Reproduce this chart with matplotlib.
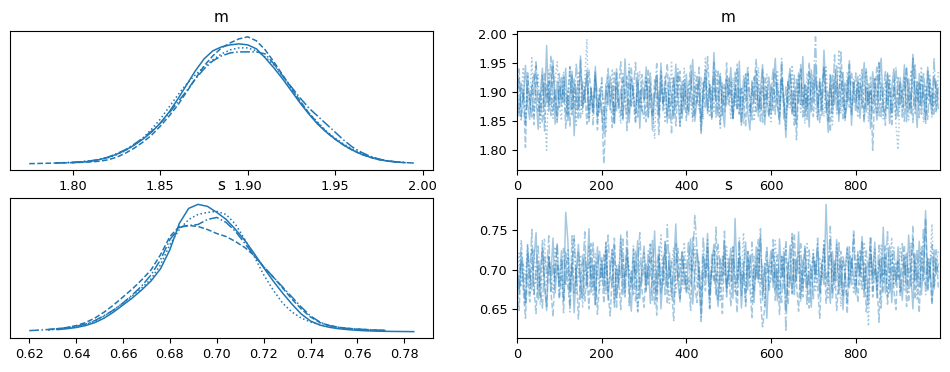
import numpy as np
import matplotlib
matplotlib.use("Agg")
import matplotlib.pyplot as plt

nan = float("nan")

# ---------------- KDE curves (density, arbitrary units) ----------------
m_grid = [1.775, 1.780, 1.785, 1.790, 1.795, 1.800, 1.805, 1.810, 1.815, 1.820,
          1.825, 1.830, 1.835, 1.840, 1.845, 1.850, 1.855, 1.860, 1.865, 1.870,
          1.875, 1.880, 1.885, 1.890, 1.895, 1.900, 1.905, 1.910, 1.915, 1.920,
          1.925, 1.930, 1.935, 1.940, 1.945, 1.950, 1.955, 1.960, 1.965, 1.970,
          1.975, 1.980, 1.985, 1.990, 1.995]
m_kde_chain0 = [nan, nan, nan, nan, nan, 1.6, 2.2, 3.0, 4.6, 6.8,
                10, 14, 19, 25, 32, 41, 52, 65, 79, 93,
                105, 113, 117, 119, 120, 119, 115, 106, 96, 85,
                73, 61, 50, 40, 32, 25, 19, 14, 10, 7,
                4.6, 3.2, 2.2, 1.6, nan]
m_kde_chain1 = [0.6, 0.8, 1.0, 1.2, 1.4, 1.6, 1.9, 2.3, 3.0, 4.4,
                7, 11, 16, 22, 29, 38, 48, 59, 72, 85,
                98, 108, 116, 121, 125, 127, 123, 114, 102, 89,
                76, 63, 51, 41, 32, 25, 19, 14, 10, 7,
                4.8, 3.2, 2.2, nan, nan]
m_kde_chain2 = [nan, nan, nan, 1.0, 1.4, 1.9, 2.5, 3.3, 4.6, 6.5,
                9.5, 13.5, 19, 26, 35, 45, 57, 69, 80, 89,
                97, 104, 110, 114, 116, 116, 113, 107, 99, 88,
                75, 62, 51, 42, 33, 26, 20, 15, 11, 7.5,
                5, 3.4, 2.4, 1.7, nan]
m_kde_chain3 = [nan, nan, nan, 1.2, 1.6, 2.0, 2.6, 3.4, 4.8, 7.0,
                10.5, 14.5, 20, 26, 33, 41, 51, 62, 73, 85,
                95, 103, 108, 111, 112, 112, 112, 110, 100, 88,
                77, 66, 56, 48, 40, 32, 24, 17, 12, 8,
                5.2, 3.5, 2.4, 1.7, 1.2]

s_grid = [0.620, 0.624, 0.628, 0.632, 0.636, 0.640, 0.644, 0.648, 0.652, 0.656,
          0.660, 0.664, 0.668, 0.672, 0.676, 0.680, 0.684, 0.688, 0.692, 0.696,
          0.700, 0.704, 0.708, 0.712, 0.716, 0.720, 0.724, 0.728, 0.732, 0.736,
          0.740, 0.744, 0.748, 0.752, 0.756, 0.760, 0.764, 0.768, 0.772, 0.776,
          0.780, 0.784]
s_kde_chain0 = [nan, nan, nan, 2.5, 3.4, 4.6, 6.5, 9.5, 14, 20,
                27, 34, 42, 51, 63, 82, 108, 123, 127, 125,
                119, 112, 102, 91, 78, 64, 51, 39, 28, 18,
                11, 7, 4.8, 3.4, 2.5, 1.8, 1.3, 1.0, 0.8, 0.7,
                0.6, 0.5]
s_kde_chain1 = [nan, nan, 2.5, 3.4, 4.6, 6.5, 9.5, 14, 20, 27,
                35, 43, 52, 62, 77, 95, 105, 106, 105, 102,
                98, 95, 90, 84, 76, 65, 55, 44, 33, 23,
                15, 9.5, 6.5, 4.8, 3.8, 3.0, 2.5, 2.0, 1.7, nan,
                nan, nan]
s_kde_chain2 = [nan, nan, 2.0, 3.0, 4.0, 5.3, 7.5, 11, 16, 22,
                29, 36, 44, 53, 67, 87, 102, 112, 117, 119,
                120, 117, 107, 92, 75, 57, 42, 29, 20, 14,
                10, 7.5, 5.5, 4.2, 3.3, 2.7, 2.2, 1.8, 1.5, nan,
                nan, nan]
s_kde_chain3 = [1.5, 2.0, 2.6, 3.4, 4.4, 5.8, 8.0, 11.5, 16.5, 22,
                29, 37, 46, 57, 72, 92, 104, 106, 107, 112,
                114, 109, 100, 88, 76, 65, 55, 45, 35, 25,
                16, 10, 6.5, 4.8, 3.6, 3.0, 2.5, 2.0, 1.7, nan,
                nan, nan]

# ---------------- Trace samples (every 5th draw) ----------------
draws = np.arange(0, 1000, 5)

m_trace_chain0 = [
    1.902, 1.859, 1.915, 1.888, 1.946, 1.879, 1.853, 1.907, 1.931, 1.892, 1.836, 1.898, 1.941, 1.875, 1.980, 1.867, 1.911, 1.955, 1.845, 1.919,
    1.874, 1.925, 1.882, 1.941, 1.851, 1.897, 1.936, 1.825, 1.908, 1.870, 1.962, 1.876, 1.899, 1.931, 1.849, 1.903, 1.868, 1.944, 1.858, 1.894,
    1.866, 1.829, 1.914, 1.878, 1.927, 1.890, 1.846, 1.940, 1.873, 1.905, 1.852, 1.957, 1.887, 1.848, 1.922, 1.896, 1.864, 1.933, 1.838, 1.910,
    1.885, 1.943, 1.856, 1.915, 1.834, 1.891, 1.929, 1.862, 1.950, 1.879, 1.908, 1.847, 1.925, 1.888, 1.855, 1.948, 1.893, 1.841, 1.918, 1.870,
    1.931, 1.861, 1.899, 1.956, 1.850, 1.887, 1.924, 1.833, 1.905, 1.939, 1.868, 1.913, 1.853, 1.968, 1.890, 1.859, 1.927, 1.876, 1.840, 1.921,
    1.895, 1.942, 1.856, 1.910, 1.872, 1.953, 1.846, 1.893, 1.930, 1.864, 1.835, 1.917, 1.881, 1.937, 1.858, 1.904, 1.947, 1.844, 1.889, 1.926,
    1.862, 1.912, 1.958, 1.876, 1.851, 1.924, 1.890, 1.822, 1.915, 1.941, 1.866, 1.901, 1.845, 1.933, 1.879, 1.961, 1.859, 1.908, 1.840, 1.938,
    1.883, 1.949, 1.854, 1.918, 1.870, 1.972, 1.893, 1.831, 1.928, 1.862, 1.909, 1.945, 1.850, 1.899, 1.934, 1.857, 1.881, 1.954, 1.843, 1.917,
    1.878, 1.927, 1.855, 1.903, 1.951, 1.866, 1.914, 1.837, 1.935, 1.890, 1.852, 1.920, 1.958, 1.873, 1.860, 1.931, 1.846, 1.907, 1.940, 1.882,
    1.858, 1.916, 1.892, 1.947, 1.849, 1.923, 1.869, 1.965, 1.900, 1.839, 1.932, 1.877, 1.912, 1.853, 1.943, 1.891, 1.862, 1.928, 1.906, 1.872]
m_trace_chain1 = [
    1.889, 1.927, 1.852, 1.900, 1.805, 1.936, 1.871, 1.912, 1.844, 1.948, 1.892, 1.860, 1.929, 1.833, 1.915, 1.878, 1.963, 1.866, 1.904, 1.848,
    1.932, 1.876, 1.913, 1.838, 1.894, 1.944, 1.861, 1.923, 1.887, 1.853, 1.955, 1.872, 1.909, 1.845, 1.938, 1.898, 1.864, 1.926, 1.835, 1.906,
    1.874, 1.777, 1.856, 1.917, 1.895, 1.839, 1.934, 1.868, 1.908, 1.952, 1.855, 1.899, 1.927, 1.862, 1.943, 1.881, 1.846, 1.919, 1.873, 1.930,
    1.899, 1.849, 1.940, 1.877, 1.858, 1.921, 1.891, 1.827, 1.928, 1.866, 1.910, 1.949, 1.855, 1.886, 1.925, 1.842, 1.903, 1.936, 1.864, 1.914,
    1.851, 1.905, 1.946, 1.880, 1.859, 1.930, 1.890, 1.829, 1.917, 1.872, 1.961, 1.896, 1.854, 1.924, 1.883, 1.938, 1.845, 1.911, 1.866, 1.950,
    1.877, 1.920, 1.855, 1.898, 1.941, 1.862, 1.909, 1.885, 1.840, 1.932, 1.893, 1.852, 1.915, 1.956, 1.868, 1.901, 1.848, 1.927, 1.884, 1.859,
    1.913, 1.867, 1.934, 1.891, 1.845, 1.947, 1.880, 1.856, 1.918, 1.897, 1.861, 1.929, 1.818, 1.903, 1.939, 1.875, 1.911, 1.853, 1.951, 1.886,
    1.858, 1.924, 1.895, 1.848, 1.912, 1.943, 1.865, 1.902, 1.832, 1.931, 1.879, 1.919, 1.861, 1.969, 1.892, 1.851, 1.921, 1.874, 1.935, 1.899,
    1.866, 1.917, 1.886, 1.939, 1.853, 1.908, 1.877, 1.926, 1.800, 1.895, 1.945, 1.859, 1.914, 1.883, 1.843, 1.933, 1.896, 1.867, 1.921, 1.855,
    1.925, 1.878, 1.903, 1.850, 1.941, 1.889, 1.863, 1.958, 1.874, 1.916, 1.856, 1.930, 1.894, 1.845, 1.936, 1.881, 1.907, 1.860, 1.919, 1.887]
m_trace_chain2 = [
    1.923, 1.865, 1.894, 1.943, 1.849, 1.910, 1.881, 1.959, 1.858, 1.901, 1.930, 1.840, 1.914, 1.872, 1.800, 1.938, 1.889, 1.855, 1.921, 1.952,
    1.878, 1.851, 1.928, 1.897, 1.860, 1.942, 1.869, 1.913, 1.843, 1.933, 1.890, 1.862, 1.918, 1.991, 1.854, 1.906, 1.875, 1.937, 1.848, 1.900,
    1.916, 1.867, 1.830, 1.927, 1.884, 1.940, 1.855, 1.909, 1.876, 1.846, 1.932, 1.893, 1.861, 1.948, 1.873, 1.914, 1.850, 1.902, 1.936, 1.865,
    1.893, 1.928, 1.857, 1.908, 1.880, 1.820, 1.922, 1.868, 1.938, 1.896, 1.847, 1.912, 1.875, 1.951, 1.859, 1.903, 1.929, 1.842, 1.888, 1.941,
    1.864, 1.915, 1.884, 1.848, 1.935, 1.897, 1.870, 1.926, 1.853, 1.958, 1.891, 1.857, 1.909, 1.867, 1.939, 1.894, 1.838, 1.918, 1.879, 1.930,
    1.902, 1.855, 1.925, 1.877, 1.950, 1.863, 1.908, 1.845, 1.934, 1.887, 1.866, 1.921, 1.850, 1.897, 1.942, 1.872, 1.911, 1.856, 1.931, 1.880,
    1.849, 1.908, 1.885, 1.938, 1.861, 1.920, 1.891, 1.836, 1.916, 1.873, 1.947, 1.856, 1.899, 1.928, 1.865, 1.910, 1.846, 1.933, 1.877, 1.903,
    1.932, 1.876, 1.852, 1.917, 1.893, 1.858, 1.943, 1.872, 1.906, 1.844, 1.925, 1.884, 1.973, 1.863, 1.911, 1.853, 1.935, 1.894, 1.867, 1.922,
    1.895, 1.856, 1.929, 1.872, 1.912, 1.940, 1.849, 1.900, 1.878, 1.925, 1.862, 1.953, 1.893, 1.854, 1.916, 1.873, 1.931, 1.858, 1.908, 1.843,
    1.801, 1.903, 1.866, 1.927, 1.882, 1.852, 1.938, 1.899, 1.861, 1.918, 1.877, 1.944, 1.848, 1.910, 1.886, 1.929, 1.857, 1.897, 1.870, 1.935]
m_trace_chain3 = [
    1.878, 1.940, 1.858, 1.903, 1.842, 1.927, 1.890, 1.855, 1.913, 1.952, 1.867, 1.899, 1.849, 1.932, 1.881, 1.919, 1.860, 1.944, 1.893, 1.853,
    1.912, 1.884, 1.935, 1.862, 1.901, 1.840, 1.928, 1.873, 1.950, 1.895, 1.856, 1.918, 1.879, 1.938, 1.866, 1.907, 1.844, 1.931, 1.891, 1.863,
    1.925, 1.853, 1.899, 1.942, 1.870, 1.911, 1.847, 1.933, 1.883, 1.860, 1.923, 1.894, 1.834, 1.937, 1.877, 1.908, 1.951, 1.857, 1.902, 1.871,
    1.855, 1.918, 1.890, 1.935, 1.864, 1.899, 1.949, 1.851, 1.912, 1.880, 1.929, 1.859, 1.896, 1.830, 1.925, 1.874, 1.940, 1.904, 1.853, 1.921,
    1.891, 1.867, 1.930, 1.857, 1.910, 1.881, 1.943, 1.848, 1.901, 1.927, 1.863, 1.915, 1.884, 1.951, 1.855, 1.896, 1.934, 1.860, 1.913, 1.876,
    1.924, 1.893, 1.852, 1.936, 1.871, 1.905, 1.843, 1.929, 1.884, 1.945, 1.859, 1.899, 1.926, 1.866, 1.914, 1.850, 1.939, 1.879, 1.908, 1.856,
    1.898, 1.941, 1.862, 1.917, 1.878, 1.958, 1.854, 1.909, 1.873, 1.932, 1.893, 1.843, 1.922, 1.882, 1.949, 1.857, 1.913, 1.870, 1.935, 1.865,
    1.911, 1.995, 1.872, 1.923, 1.858, 1.942, 1.890, 1.850, 1.930, 1.877, 1.964, 1.863, 1.903, 1.936, 1.854, 1.917, 1.881, 1.948, 1.861, 1.906,
    1.933, 1.869, 1.915, 1.891, 1.849, 1.939, 1.880, 1.909, 1.864, 1.926, 1.888, 1.950, 1.855, 1.901, 1.935, 1.872, 1.920, 1.844, 1.897, 1.943,
    1.879, 1.927, 1.857, 1.908, 1.941, 1.868, 1.899, 1.848, 1.949, 1.884, 1.916, 1.862, 1.934, 1.893, 1.853, 1.921, 1.875, 1.959, 1.866, 1.910]

s_trace_chain0 = [
    0.708, 0.669, 0.722, 0.686, 0.655, 0.731, 0.694, 0.674, 0.713, 0.747, 0.662, 0.699, 0.727, 0.679, 0.648, 0.716, 0.690, 0.740, 0.670, 0.705,
    0.683, 0.724, 0.660, 0.773, 0.738, 0.673, 0.711, 0.645, 0.701, 0.732, 0.684, 0.664, 0.719, 0.691, 0.752, 0.671, 0.706, 0.656, 0.729, 0.688,
    0.715, 0.676, 0.735, 0.661, 0.697, 0.726, 0.652, 0.703, 0.682, 0.744, 0.668, 0.695, 0.728, 0.675, 0.647, 0.712, 0.689, 0.737, 0.663, 0.700,
    0.730, 0.679, 0.707, 0.657, 0.693, 0.749, 0.670, 0.717, 0.650, 0.698, 0.734, 0.677, 0.721, 0.666, 0.702, 0.758, 0.685, 0.659, 0.723, 0.694,
    0.673, 0.710, 0.739, 0.656, 0.696, 0.725, 0.681, 0.640, 0.716, 0.690, 0.746, 0.667, 0.704, 0.732, 0.678, 0.653, 0.714, 0.692, 0.737, 0.671,
    0.699, 0.727, 0.663, 0.765, 0.684, 0.712, 0.651, 0.700, 0.735, 0.674, 0.718, 0.693, 0.658, 0.729, 0.687, 0.743, 0.668, 0.708, 0.638, 0.701,
    0.724, 0.677, 0.709, 0.660, 0.739, 0.690, 0.716, 0.647, 0.696, 0.731, 0.670, 0.713, 0.685, 0.748, 0.663, 0.703, 0.727, 0.675, 0.698, 0.652,
    0.717, 0.688, 0.733, 0.666, 0.706, 0.681, 0.783, 0.697, 0.657, 0.723, 0.686, 0.738, 0.669, 0.710, 0.649, 0.700, 0.729, 0.677, 0.714, 0.692,
    0.668, 0.721, 0.695, 0.742, 0.673, 0.704, 0.655, 0.726, 0.690, 0.735, 0.664, 0.711, 0.685, 0.754, 0.670, 0.699, 0.730, 0.658, 0.708, 0.680,
    0.729, 0.692, 0.661, 0.716, 0.679, 0.744, 0.697, 0.650, 0.720, 0.686, 0.736, 0.668, 0.705, 0.775, 0.676, 0.713, 0.659, 0.725, 0.694, 0.707]
s_trace_chain1 = [
    0.680, 0.648, 0.710, 0.671, 0.638, 0.696, 0.659, 0.727, 0.676, 0.644, 0.705, 0.664, 0.737, 0.686, 0.653, 0.716, 0.673, 0.640, 0.699, 0.731,
    0.665, 0.694, 0.645, 0.722, 0.679, 0.655, 0.743, 0.670, 0.702, 0.637, 0.688, 0.718, 0.660, 0.697, 0.650, 0.733, 0.676, 0.709, 0.643, 0.684,
    0.703, 0.657, 0.725, 0.672, 0.641, 0.692, 0.740, 0.663, 0.689, 0.649, 0.713, 0.678, 0.750, 0.654, 0.698, 0.668, 0.724, 0.646, 0.690, 0.674,
    0.652, 0.708, 0.681, 0.732, 0.661, 0.694, 0.642, 0.719, 0.670, 0.687, 0.736, 0.656, 0.703, 0.677, 0.635, 0.698, 0.727, 0.663, 0.685, 0.715,
    0.669, 0.691, 0.648, 0.741, 0.680, 0.658, 0.710, 0.632, 0.696, 0.673, 0.729, 0.651, 0.701, 0.684, 0.754, 0.662, 0.693, 0.644, 0.721, 0.676,
    0.700, 0.654, 0.716, 0.683, 0.645, 0.734, 0.667, 0.697, 0.657, 0.723, 0.678, 0.639, 0.706, 0.688, 0.739, 0.664, 0.627, 0.650, 0.713, 0.672,
    0.690, 0.726, 0.661, 0.699, 0.643, 0.718, 0.676, 0.737, 0.655, 0.695, 0.669, 0.746, 0.682, 0.647, 0.707, 0.665, 0.730, 0.687, 0.651, 0.702,
    0.663, 0.712, 0.679, 0.638, 0.700, 0.728, 0.657, 0.691, 0.738, 0.671, 0.706, 0.648, 0.688, 0.723, 0.666, 0.696, 0.644, 0.719, 0.680, 0.751,
    0.697, 0.658, 0.724, 0.675, 0.709, 0.646, 0.690, 0.742, 0.665, 0.702, 0.683, 0.633, 0.714, 0.670, 0.732, 0.656, 0.694, 0.720, 0.674, 0.649,
    0.711, 0.667, 0.693, 0.731, 0.653, 0.701, 0.679, 0.756, 0.662, 0.695, 0.645, 0.722, 0.685, 0.765, 0.672, 0.705, 0.655, 0.689, 0.727, 0.677]
s_trace_chain2 = [
    0.699, 0.721, 0.678, 0.708, 0.686, 0.733, 0.668, 0.703, 0.726, 0.683, 0.712, 0.655, 0.700, 0.740, 0.680, 0.717, 0.692, 0.671, 0.729, 0.705,
    0.685, 0.714, 0.662, 0.698, 0.727, 0.677, 0.706, 0.745, 0.670, 0.694, 0.719, 0.651, 0.701, 0.682, 0.731, 0.690, 0.666, 0.720, 0.697, 0.674,
    0.713, 0.688, 0.736, 0.673, 0.700, 0.725, 0.658, 0.707, 0.681, 0.739, 0.695, 0.667, 0.722, 0.701, 0.676, 0.730, 0.689, 0.648, 0.711, 0.693,
    0.723, 0.675, 0.704, 0.734, 0.684, 0.712, 0.663, 0.698, 0.744, 0.679, 0.718, 0.690, 0.657, 0.706, 0.728, 0.671, 0.699, 0.715, 0.681, 0.735,
    0.693, 0.668, 0.716, 0.697, 0.730, 0.678, 0.705, 0.652, 0.721, 0.694, 0.738, 0.674, 0.701, 0.726, 0.685, 0.710, 0.661, 0.717, 0.692, 0.729,
    0.682, 0.707, 0.731, 0.670, 0.698, 0.722, 0.688, 0.747, 0.676, 0.713, 0.694, 0.660, 0.718, 0.699, 0.727, 0.683, 0.704, 0.654, 0.723, 0.696,
    0.711, 0.684, 0.737, 0.693, 0.665, 0.719, 0.700, 0.729, 0.678, 0.706, 0.742, 0.673, 0.697, 0.724, 0.659, 0.713, 0.689, 0.733, 0.680, 0.702,
    0.725, 0.671, 0.698, 0.716, 0.686, 0.739, 0.694, 0.662, 0.720, 0.703, 0.677, 0.732, 0.699, 0.653, 0.712, 0.690, 0.728, 0.683, 0.708, 0.669,
    0.700, 0.723, 0.679, 0.709, 0.735, 0.688, 0.628, 0.714, 0.695, 0.726, 0.672, 0.703, 0.731, 0.684, 0.717, 0.664, 0.698, 0.741, 0.680, 0.710,
    0.689, 0.727, 0.705, 0.672, 0.718, 0.696, 0.734, 0.683, 0.711, 0.661, 0.701, 0.730, 0.693, 0.679, 0.715, 0.698, 0.758, 0.675, 0.706, 0.724]
s_trace_chain3 = [
    0.714, 0.674, 0.737, 0.694, 0.658, 0.722, 0.684, 0.751, 0.668, 0.701, 0.730, 0.679, 0.650, 0.716, 0.696, 0.743, 0.671, 0.707, 0.688, 0.734,
    0.664, 0.698, 0.727, 0.679, 0.715, 0.646, 0.700, 0.740, 0.683, 0.722, 0.661, 0.694, 0.748, 0.675, 0.710, 0.690, 0.735, 0.655, 0.703, 0.725,
    0.686, 0.719, 0.669, 0.744, 0.696, 0.677, 0.731, 0.652, 0.707, 0.689, 0.739, 0.665, 0.713, 0.697, 0.680, 0.727, 0.660, 0.702, 0.747, 0.683,
    0.705, 0.672, 0.724, 0.692, 0.737, 0.656, 0.698, 0.729, 0.680, 0.716, 0.668, 0.757, 0.690, 0.711, 0.657, 0.733, 0.685, 0.700, 0.722, 0.676,
    0.695, 0.736, 0.682, 0.713, 0.770, 0.726, 0.699, 0.673, 0.742, 0.688, 0.709, 0.650, 0.721, 0.693, 0.668, 0.732, 0.701, 0.681, 0.749, 0.665,
    0.716, 0.685, 0.728, 0.697, 0.667, 0.741, 0.679, 0.710, 0.653, 0.723, 0.690, 0.735, 0.673, 0.704, 0.684, 0.752, 0.661, 0.698, 0.730, 0.680,
    0.701, 0.738, 0.674, 0.719, 0.692, 0.658, 0.727, 0.621, 0.709, 0.683, 0.746, 0.668, 0.714, 0.695, 0.733, 0.677, 0.703, 0.654, 0.725, 0.687,
    0.720, 0.693, 0.740, 0.671, 0.708, 0.731, 0.682, 0.698, 0.755, 0.662, 0.711, 0.686, 0.736, 0.676, 0.718, 0.694, 0.656, 0.729, 0.700, 0.744,
    0.679, 0.713, 0.690, 0.735, 0.665, 0.724, 0.697, 0.742, 0.673, 0.706, 0.684, 0.731, 0.651, 0.715, 0.694, 0.750, 0.669, 0.701, 0.728, 0.683,
    0.710, 0.672, 0.733, 0.693, 0.721, 0.661, 0.702, 0.739, 0.685, 0.726, 0.678, 0.699, 0.753, 0.668, 0.714, 0.690, 0.732, 0.676, 0.708, 0.696]

var_names = ["m", "s"]
linestyles = ["-", "--", ":", "-."]
color = "#1f77b4"

fig = plt.figure(figsize=(9.5, 3.72), dpi=100)
W, H = 950.0, 372.0
def rect(x0, y0, x1, y1):
    return [x0 / W, 1 - y1 / H, (x1 - x0) / W, (y1 - y0) / H]

ax_kde_m = fig.add_axes(rect(10, 30.5, 433, 170))
ax_tr_m = fig.add_axes(rect(517, 30.5, 940, 170))
ax_kde_s = fig.add_axes(rect(10, 198, 433, 338))
ax_tr_s = fig.add_axes(rect(517, 198, 940, 338))

kde_sets = [
    (ax_kde_m, m_grid, [m_kde_chain0, m_kde_chain1, m_kde_chain2, m_kde_chain3]),
    (ax_kde_s, s_grid, [s_kde_chain0, s_kde_chain1, s_kde_chain2, s_kde_chain3]),
]
for ax, grid, chains in kde_sets:
    for ls, dens in zip(linestyles, chains):
        ax.plot(grid, dens, color=color, linestyle=ls, linewidth=1.1)
    ax.set_yticks([])

trace_sets = [
    (ax_tr_m, [m_trace_chain0, m_trace_chain1, m_trace_chain2, m_trace_chain3]),
    (ax_tr_s, [s_trace_chain0, s_trace_chain1, s_trace_chain2, s_trace_chain3]),
]
for ax, chains in trace_sets:
    for ls, vals in zip(linestyles, chains):
        ax.plot(draws, vals, color=color, linestyle=ls, linewidth=1.1, alpha=0.4)
    ax.set_xlim(0, 999)

ax_kde_m.set_xticks([1.80, 1.85, 1.90, 1.95, 2.00])
ax_kde_s.set_xticks([0.62, 0.64, 0.66, 0.68, 0.70, 0.72, 0.74, 0.76, 0.78])
ax_tr_m.set_yticks([1.80, 1.85, 1.90, 1.95, 2.00])
ax_tr_s.set_yticks([0.65, 0.70, 0.75])
for ax in (ax_tr_m, ax_tr_s):
    ax.set_xticks([0, 200, 400, 600, 800])

for ax in (ax_kde_m, ax_kde_s, ax_tr_m, ax_tr_s):
    ax.tick_params(labelsize=9.3)

ax_kde_m.set_title(var_names[0], fontsize=11)
ax_tr_m.set_title(var_names[0], fontsize=11)
ax_kde_s.set_title(var_names[1], fontsize=11)
ax_tr_s.set_title(var_names[1], fontsize=11)

fig.savefig("out.png", dpi=100)
